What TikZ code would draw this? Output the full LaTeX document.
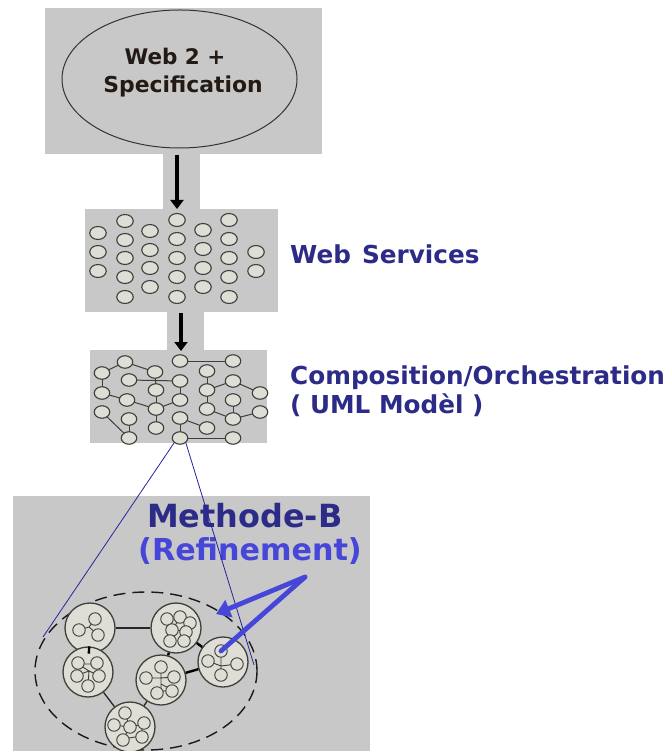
\documentclass[tikz,border=0pt]{standalone}
\usepackage{fontspec}
\setmainfont{DejaVu Sans}
\usetikzlibrary{arrows.meta,shapes.geometric}

\definecolor{panel}{RGB}{200,200,200}
\definecolor{bubble}{RGB}{222,222,214}
\definecolor{rim}{RGB}{62,62,58}
\definecolor{navy}{RGB}{44,44,136}
\definecolor{refblue}{RGB}{70,70,216}
\definecolor{zoomblue}{RGB}{36,36,160}
\definecolor{ink}{RGB}{35,26,20}

\tikzset{
  panelbox/.style={rectangle,fill=panel,draw=none,inner sep=0pt},
  svc/.style={ellipse,draw=rim,fill=bubble,line width=1.1pt,minimum width=16.5pt,minimum height=13pt,inner sep=0pt},
  comp/.style={ellipse,draw=rim,fill=bubble,line width=1.1pt,minimum width=15.5pt,minimum height=12.5pt,inner sep=0pt},
  link/.style={draw=rim,line width=1pt},
  flowarrow/.style={draw=black,line width=4pt,-{Triangle[width=13pt,length=9pt]}},
  module/.style={circle,draw=rim,fill=bubble,line width=1.3pt,minimum size=50pt,inner sep=0pt},
  part/.style={circle,draw=rim,fill=bubble,line width=0.9pt,minimum size=12.5pt,inner sep=0pt},
  modlink/.style={draw=black!85,line width=1.3pt},
  strong/.style={draw=black,line width=2.4pt},
  inner/.style={draw=rim,line width=0.9pt},
  zoomline/.style={draw=zoomblue,line width=0.8pt},
  refline/.style={draw=refblue,line width=4.8pt,line cap=round,line join=round},
  label/.style={font=\bfseries\fontsize{24.7}{28}\selectfont,text=navy,anchor=base west,inner sep=0pt}
}

\begin{document}
\begin{tikzpicture}[x=1pt,y=-1pt]
\useasboundingbox (0,0) rectangle (670,751);
\fill[white] (0,0) rectangle (670,751);

% grey panels and connecting strips
\node[panelbox,minimum width=277pt,minimum height=146pt] (topbox) at (183.5,81) {};
\node[panelbox,minimum width=37pt,minimum height=56pt] (strip1) at (181.5,181.5) {};
\node[panelbox,minimum width=193pt,minimum height=103pt] (wsbox) at (181.5,260.5) {};
\node[panelbox,minimum width=37pt,minimum height=39pt] (strip2) at (185.5,331) {};
\node[panelbox,minimum width=177pt,minimum height=93pt] (compbox) at (178.5,396.5) {};
\node[panelbox,minimum width=357pt,minimum height=256pt] (methbox) at (191.5,623.5) {};

% specification ellipse
\node[ellipse,draw=black!80,line width=1pt,minimum width=235pt,minimum height=138pt,inner sep=0pt] (spec) at (179.5,79) {};
\node[font=\bfseries\fontsize{21.5}{24}\selectfont,text=ink,anchor=base,inner sep=0pt] (spec1) at (175,65) {Web 2 +};
\node[font=\bfseries\fontsize{21.9}{24}\selectfont,text=ink,anchor=base,inner sep=0pt] (spec2) at (183,93) {Specification};

% flow arrows
\coordinate (f1a) at (177,155);
\coordinate (f1b) at (177,209);
\coordinate (f2a) at (181,313);
\coordinate (f2b) at (181,351);
\draw[flowarrow] (f1a) -- (f1b);
\draw[flowarrow] (f2a) -- (f2b);

% web services pool
\foreach \px/\py [count=\i] in {
  98/233,98/252,98/271,
  125/221,125/240,125/258,125/277,125/297,
  150/231,150/250,150/268,150/287,
  177/220,177/239,177/258,177/277,177/297,
  203/230,203/249,203/268,203/287,
  229/220,229/239,229/258,229/277,229/297,
  256/252,256/271}
  \node[svc] (w\i) at (\px,\py) {};

\node[label] (wslabel) at (290,263) {Web\hspace{0.45em}Services};

% composition graph
\foreach \nm/\px/\py in {
  ca/125/362, cb/180/361, cc/233/361,
  cd/102/373, ce/155/372, cf/207/371,
  cg/129/380, ch/180/381, ci/233/381,
  cj/102/393, ck/156/390, cl/207/390, cm/260/393,
  cn/127/400, co/180/400, cp/233/400,
  cq/102/412, cr/156/409, cs/207/409, ct/260/412,
  cu/129/419, cv/180/418, cw/233/419,
  cx/156/428, cy/207/428,
  cz/129/438, caa/180/438, cbb/233/438}
  \coordinate (\nm) at (\px,\py);

\foreach \u/\v in {ca/cd, ca/ce, cb/cc, cg/ch, cd/cj, cj/cn, ce/ck, ch/co,
  ck/cr, cn/cr, co/cr, cf/cl, ci/cm, cl/cs, cs/cw, cp/cw, cw/ct,
  cq/cz, cu/cz, cr/cx, cv/caa, cv/cy, caa/cbb, ci/cl}
  \draw[link] (\u) -- (\v);

\foreach \nm in {ca,cb,cc,cd,ce,cf,cg,ch,ci,cj,ck,cl,cm,cn,co,cp,cq,cr,cs,ct,cu,cv,cw,cx,cy,cz,caa,cbb}
  \node[comp] (n\nm) at (\nm) {};

\node[label] (complabel) at (290,384) {Composition/Orchestration};
\node[label] (umllabel) at (290,413) {( UML Modèl )};

% Methode-B titles
\node[font=\bfseries\fontsize{31.9}{34}\selectfont,text=navy,anchor=base west,inner sep=0pt] (methlabel) at (147,527) {Methode-B};
\node[font=\bfseries\fontsize{30.2}{34}\selectfont,text=refblue,anchor=base west,inner sep=0pt] (reflabel) at (138,560) {(Refinement)};

% refinement ring
\node[ellipse,draw=black!90,line width=1.4pt,dash pattern=on 12pt off 7pt,minimum width=222pt,minimum height=158pt,inner sep=0pt] (ring) at (146,671) {};

% modules
\node[module] (m1) at (90,628) {};
\node[module] (m2) at (176,628) {};
\node[module] (m3) at (223,662) {};
\node[module] (m4) at (88,672) {};
\node[module] (m5) at (161,680) {};
\node[module] (m6) at (130,727) {};

\draw[modlink] (m1) -- (m2);
\draw[strong] (m1) -- (m4);
\draw[strong] (m2) -- (m3);
\draw[strong] (m2) -- (m5);
\draw[strong] (m5) -- (m3);
\draw[modlink] (m4) -- (m6);
\draw[modlink] (m5) -- (m6);

% module internals
\begin{scope}[shift={(90,628)}]
  \coordinate (p1o) at (-1,-1);
  \draw[inner] (p1o) -- (5,-9) (p1o) -- (-11,2) (p1o) -- (8,7);
  \node[part] (p1a) at (5,-9) {};
  \node[part] (p1b) at (-11,2) {};
  \node[part] (p1c) at (8,7) {};
\end{scope}

\begin{scope}[shift={(176,628)}]
  \draw[inner] (-9,-9) -- (-4,2) -- (-6,12) (4,-10) -- (-4,2) -- (9,3) -- (8,11) (13,-6) -- (9,3);
  \node[part] (p2a) at (-9,-9) {};
  \node[part] (p2b) at (4,-11) {};
  \node[part] (p2c) at (14,-5) {};
  \node[part] (p2d) at (-4,2) {};
  \node[part] (p2e) at (10,4) {};
  \node[part] (p2f) at (-6,13) {};
  \node[part] (p2g) at (8,13) {};
\end{scope}

\begin{scope}[shift={(223,662)}]
  \coordinate (p3o) at (-2,4);
  \draw[inner] (-2,-11) -- (p3o) -- (-15,-1) (p3o) -- (-2,12) (p3o) -- (14,2);
  \node[part] (p3a) at (-2,-11) {};
  \node[part] (p3b) at (-15,-1) {};
  \node[part] (p3c) at (14,2) {};
  \node[part] (p3d) at (-2,13) {};
\end{scope}

\begin{scope}[shift={(88,672)}]
  \draw[inner] (-10,-8) -- (8,-8) (-10,-8) -- (1,-1) -- (10,3) (-10,3) -- (1,-1) -- (0,13);
  \node[part] (p4a) at (-10,-9) {};
  \node[part] (p4b) at (9,-9) {};
  \node[part] (p4c) at (-11,4) {};
  \node[part] (p4d) at (11,4) {};
  \node[part] (p4e) at (0,14) {};
\end{scope}

\begin{scope}[shift={(161,680)}]
  \draw[inner] (0,-12) -- (0,12) (-16,-2) -- (0,-2) -- (12,-3) (-4,12) -- (11,10) (0,4) -- (11,10);
  \node[part] (p5a) at (0,-13) {};
  \node[part] (p5b) at (-15,-2) {};
  \node[part] (p5c) at (13,-3) {};
  \node[part] (p5d) at (-4,13) {};
  \node[part] (p5e) at (11,11) {};
\end{scope}

\begin{scope}[shift={(130,727)}]
  \draw[inner] (-5,-13) -- (0,0) -- (-17,-2) (0,0) -- (13,-3) (0,0) -- (-7,12) -- (11,9) -- (13,-3);
  \node[part] (p6a) at (-5,-14) {};
  \node[part] (p6b) at (-16,-2) {};
  \node[part] (p6c) at (0,0) {};
  \node[part] (p6d) at (14,-4) {};
  \node[part] (p6e) at (-7,13) {};
  \node[part] (p6f) at (12,10) {};
\end{scope}

% zoom lines from the composed service down to the refinement ring
\coordinate (zl) at (43,637);
\coordinate (zr) at (254,665);
\draw[zoomline] (ncaa.south west) -- (zl);
\draw[zoomline] (ncaa.south east) -- (zr);

% refinement arrows
\coordinate (hub) at (305,577);
\coordinate (tipa) at (216,614);
\draw[refline,-{Triangle[width=18pt,length=14pt]}] (hub) -- (tipa);
\draw[refline] (hub) -- (p3a.center);
\end{tikzpicture}
\end{document}
